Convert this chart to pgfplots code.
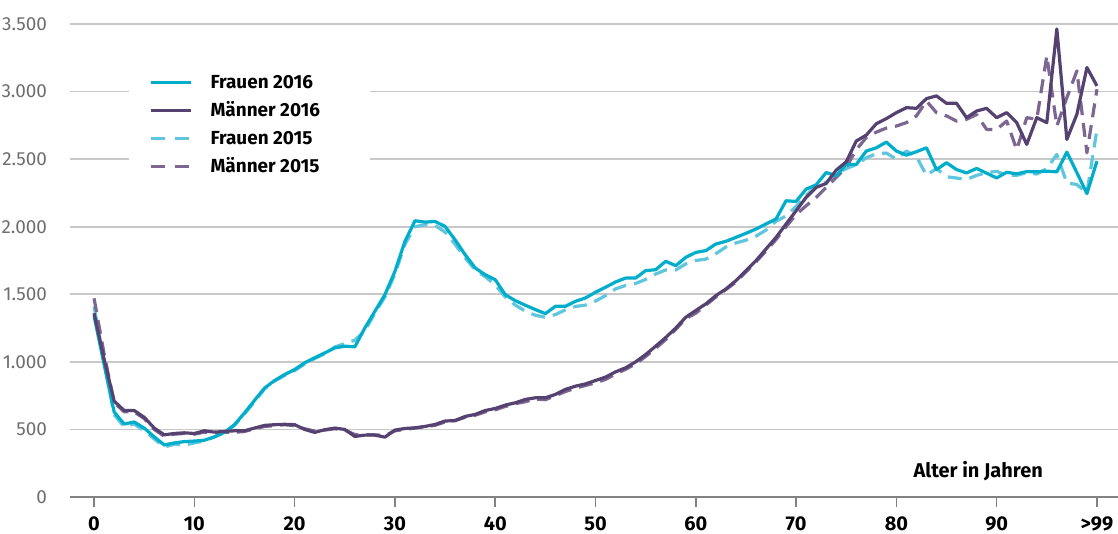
\documentclass[border=0pt]{standalone}
\usepackage{fontspec}
\setmainfont{Fira Sans}
\usepackage{pgfplots}
\usepackage{pgfplotstable}
\pgfplotsset{compat=1.18}
\definecolor{frauen16}{RGB}{0,174,203}
\definecolor{maenner16}{RGB}{86,66,112}
\definecolor{frauen15}{RGB}{96,198,222}
\definecolor{maenner15}{RGB}{124,103,146}
\definecolor{gridgray}{RGB}{200,200,200}
\definecolor{axisgray}{RGB}{130,130,130}
\definecolor{labelgray}{RGB}{110,110,110}

% Alter, Frauen 2016, Maenner 2016, Frauen 2015, Maenner 2015
\pgfplotstableread{
age f16 m16 f15 m15
0 1340 1360 1410 1470
1 980 1020 1000 1060
2 630 710 610 700
3 540 640 520 630
4 555 640 540 630
5 510 590 490 580
6 445 510 430 500
7 385 460 370 450
8 400 470 390 465
9 410 475 385 470
10 414 470 400 465
11 420 490 415 480
12 445 480 445 475
13 478 485 475 480
14 535 490 530 478
15 622 490 615 485
16 715 510 705 505
17 806 530 800 522
18 862 535 858 528
19 906 538 900 535
20 943 535 935 528
21 993 500 985 505
22 1030 478 1025 488
23 1066 498 1060 495
24 1103 510 1110 505
25 1116 500 1135 495
26 1111 448 1160 462
27 1251 458 1230 460
28 1374 458 1360 460
29 1497 443 1480 455
30 1670 495 1650 490
31 1892 507 1870 500
32 2044 512 2000 510
33 2034 522 2015 520
34 2039 537 2010 530
35 2002 562 1960 555
36 1903 566 1870 565
37 1793 596 1770 590
38 1695 611 1680 605
39 1645 640 1630 630
40 1608 655 1570 645
41 1497 680 1480 670
42 1453 697 1420 690
43 1419 722 1375 705
44 1387 734 1345 725
45 1357 734 1330 720
46 1411 759 1350 750
47 1411 796 1385 780
48 1448 820 1410 805
49 1473 837 1420 825
50 1515 862 1450 845
51 1552 887 1490 870
52 1591 926 1540 910
53 1620 956 1565 945
54 1620 1000 1580 985
55 1675 1054 1610 1040
56 1682 1116 1650 1100
57 1744 1180 1680 1165
58 1712 1250 1680 1240
59 1773 1330 1725 1320
60 1810 1380 1750 1360
61 1823 1429 1760 1420
62 1872 1490 1800 1480
63 1892 1539 1850 1535
64 1921 1601 1880 1590
65 1951 1675 1900 1665
66 1983 1749 1930 1740
67 2020 1835 1975 1820
68 2057 1921 2040 1905
69 2192 2020 2080 2000
70 2187 2118 2150 2090
71 2278 2217 2230 2155
72 2310 2291 2300 2217
73 2401 2320 2330 2290
74 2377 2419 2390 2365
75 2463 2480 2430 2440
76 2460 2634 2460 2570
77 2560 2678 2510 2660
78 2584 2762 2540 2700
79 2626 2800 2545 2730
80 2560 2844 2500 2745
81 2530 2881 2560 2770
82 2555 2876 2520 2820
83 2584 2948 2380 2930
84 2423 2968 2430 2844
85 2473 2913 2370 2820
86 2423 2913 2360 2782
87 2398 2807 2350 2795
88 2431 2856 2380 2830
89 2396 2876 2400 2720
90 2361 2807 2410 2720
91 2403 2844 2380 2782
92 2391 2770 2380 2570
93 2408 2609 2400 2807
94 2406 2807 2390 2795
95 2411 2770 2430 3265
96 2406 3463 2535 2745
97 2552 2646 2324 2955
98 2400 2832 2312 3153
99 2245 3178 2250 2547
100 2485 3042 2720 3017
}\sterbefaelle

\begin{document}
\begin{tikzpicture}
\begin{axis}[
    scale only axis,
    width=524bp, height=236.5bp,
    xmin=-2.4, xmax=102.1,
    ymin=0, ymax=3500,
    xtick={0,10,...,100},
    xticklabels={0,10,20,30,40,50,60,70,80,90,>99},
    ytick={0,500,...,3500},
    scaled y ticks=false,
    /pgf/number format/.cd, 1000 sep={.}, assume math mode=true,
    /pgfplots/.cd,
    axis x line*=bottom,
    axis y line*=left,
    y axis line style={draw=none},
    x axis line style={draw=axisgray, line width=1bp, -},
    tick align=outside,
    major tick length=5bp,
    xtick style={draw=axisgray, line width=0.8bp},
    ytick style={draw=none},
    ymajorgrids=true,
    grid style={draw=gridgray, line width=0.8bp},
    xticklabel style={font=\bfseries\fontsize{10}{12}\selectfont, text=black, yshift=-1.5bp},
    yticklabel style={font=\fontsize{9.5}{11}\selectfont, text=labelgray, xshift=-3bp},
    clip=false,
    legend cell align=left,
    legend style={at={(0.0563,0.915)}, anchor=north west, draw=none, fill=white,
        inner xsep=10bp, inner ysep=3bp, row sep=2bp, column sep=8bp,
        font=\bfseries\fontsize{9.5}{11}\selectfont,
        nodes={inner sep=1bp, text height=8bp, text depth=2bp}},
    legend image code/.code={\draw[#1] (0bp,0bp) -- (20bp,0bp);},
    every axis plot/.append style={line width=1.6bp, line join=round},
]
% white space behind the legend, breaking the grid lines as in the original
\fill[white] (axis cs:3.5,2370) rectangle (axis cs:27.5,3200);
\addplot[frauen15, dash pattern=on 7bp off 4bp, forget plot] table[x=age, y=f15] {\sterbefaelle};
\addplot[maenner15, dash pattern=on 7bp off 4bp, forget plot] table[x=age, y=m15] {\sterbefaelle};
\addplot[frauen16] table[x=age, y=f16] {\sterbefaelle};
\addlegendentry{Frauen 2016}
\addplot[maenner16] table[x=age, y=m16] {\sterbefaelle};
\addlegendentry{Männer 2016}
\addlegendimage{frauen15, line width=1.6bp, dash pattern=on 7bp off 5bp}
\addlegendentry{Frauen 2015}
\addlegendimage{maenner15, line width=1.6bp, dash pattern=on 7bp off 5bp}
\addlegendentry{Männer 2015}
\node[anchor=east, font=\bfseries\fontsize{10}{12}\selectfont] at (axis cs:95.3,192) {Alter in Jahren};
\coordinate (bl) at (rel axis cs:0,0);
\coordinate (tr) at (rel axis cs:1,1);
\end{axis}
\pgfresetboundingbox
\path ([shift={(-35bp,-18.5bp)}]bl) rectangle ([shift={(0bp,12bp)}]tr);
\end{tikzpicture}
\end{document}
